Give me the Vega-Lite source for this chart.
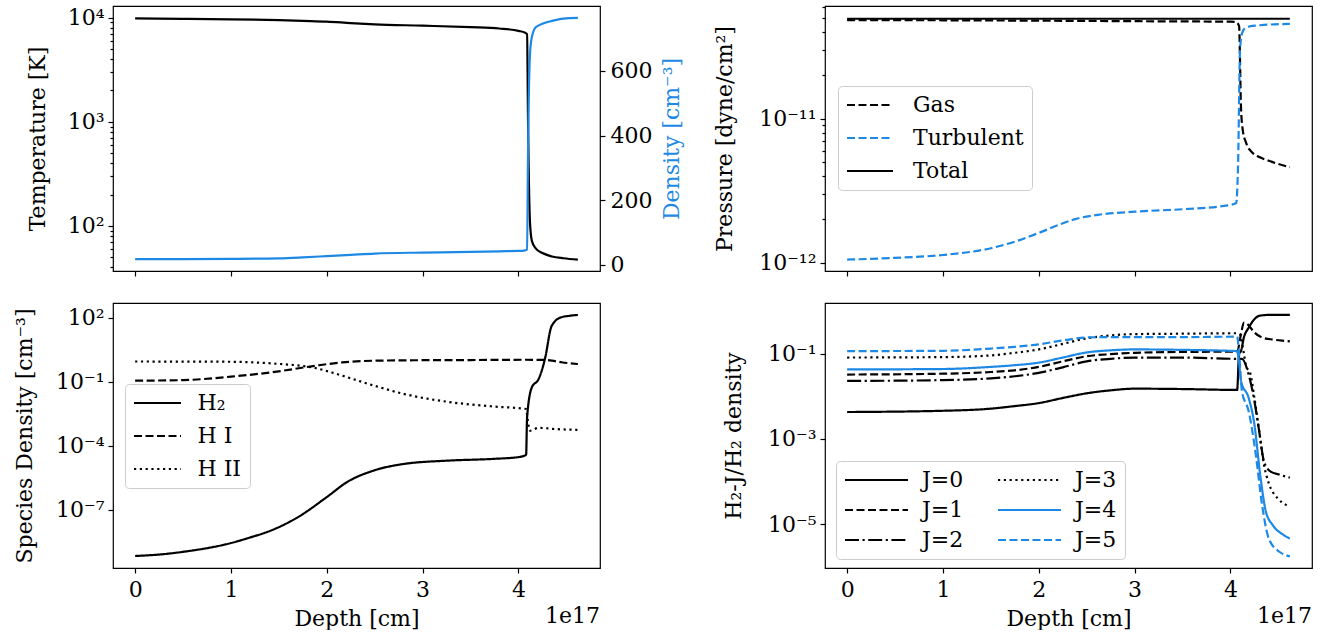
{
  "$schema": "https://vega.github.io/schema/vega-lite/v6.json",
  "background": "white",
  "padding": {"left": 12, "top": 5, "right": 5, "bottom": 0},
  "columns": 2,
  "bounds": "flush",
  "spacing": {"row": 32, "column": 225},
  "resolve": {"scale": {"color": "independent", "strokeDash": "independent"}, "legend": {"color": "independent", "strokeDash": "independent"}},
  "config": {
    "font": "DejaVu Serif",
    "view": {"stroke": "black", "strokeWidth": 1.2},
    "line": {"interpolate": "monotone"},
    "axis": {"domain": false, "grid": false, "tickColor": "black", "tickWidth": 1.2, "tickSize": 5,
      "labelFont": "DejaVu Serif", "labelFontSize": 22, "labelColor": "black", "labelPadding": 4,
      "titleFont": "DejaVu Serif", "titleFontSize": 22, "titleFontWeight": "normal", "titleColor": "black",
      "titlePadding": 8, "labelOverlap": false, "labelFlush": false},
    "legend": {"labelFont": "DejaVu Serif", "labelFontSize": 22, "labelColor": "black", "symbolStrokeWidth": 2.2,
      "fillColor": "white", "strokeColor": "#cccccc", "cornerRadius": 4, "padding": 8, "labelLimit": 0}
  },
  "datasets": {
    "temp": [
      {"d": 0, "T": 9800, "n": 18}, {"d": 0.5, "T": 9720, "n": 18}, {"d": 1.0, "T": 9620, "n": 18.5},
      {"d": 1.5, "T": 9450, "n": 20}, {"d": 1.75, "T": 9300, "n": 23}, {"d": 2.0, "T": 9150, "n": 27},
      {"d": 2.25, "T": 8850, "n": 31}, {"d": 2.5, "T": 8600, "n": 35}, {"d": 3.0, "T": 8350, "n": 38},
      {"d": 3.5, "T": 8080, "n": 40}, {"d": 3.8, "T": 7850, "n": 42}, {"d": 4.0, "T": 7450, "n": 43},
      {"d": 4.07, "T": 7150, "n": 45}, {"d": 4.09, "T": 6900, "n": 47}, {"d": 4.10, "T": 1000, "n": 350},
      {"d": 4.12, "T": 110, "n": 650}, {"d": 4.14, "T": 72, "n": 705}, {"d": 4.18, "T": 61, "n": 735},
      {"d": 4.25, "T": 55, "n": 746}, {"d": 4.35, "T": 51, "n": 755}, {"d": 4.47, "T": 49, "n": 762},
      {"d": 4.62, "T": 47.5, "n": 764}
    ],
    "press": [
      {"d": 0, "s": "Total", "v": 4.95e-11}, {"d": 1, "s": "Total", "v": 4.95e-11}, {"d": 2, "s": "Total", "v": 4.95e-11},
      {"d": 3, "s": "Total", "v": 4.95e-11}, {"d": 4, "s": "Total", "v": 4.95e-11}, {"d": 4.62, "s": "Total", "v": 4.95e-11},
      {"d": 0, "s": "Gas", "v": 4.84e-11}, {"d": 1, "s": "Gas", "v": 4.83e-11}, {"d": 2, "s": "Gas", "v": 4.8e-11},
      {"d": 3, "s": "Gas", "v": 4.76e-11}, {"d": 4, "s": "Gas", "v": 4.72e-11}, {"d": 4.06, "s": "Gas", "v": 4.7e-11},
      {"d": 4.09, "s": "Gas", "v": 4.4e-11}, {"d": 4.11, "s": "Gas", "v": 1.2e-11}, {"d": 4.13, "s": "Gas", "v": 8.2e-12},
      {"d": 4.16, "s": "Gas", "v": 6.9e-12}, {"d": 4.23, "s": "Gas", "v": 5.8e-12}, {"d": 4.32, "s": "Gas", "v": 5.35e-12},
      {"d": 4.40, "s": "Gas", "v": 5.1e-12}, {"d": 4.50, "s": "Gas", "v": 4.85e-12}, {"d": 4.62, "s": "Gas", "v": 4.6e-12},
      {"d": 0, "s": "Turbulent", "v": 1.05e-12}, {"d": 0.5, "s": "Turbulent", "v": 1.08e-12}, {"d": 1.0, "s": "Turbulent", "v": 1.13e-12},
      {"d": 1.5, "s": "Turbulent", "v": 1.26e-12}, {"d": 1.75, "s": "Turbulent", "v": 1.4e-12}, {"d": 2.0, "s": "Turbulent", "v": 1.61e-12},
      {"d": 2.2, "s": "Turbulent", "v": 1.82e-12}, {"d": 2.37, "s": "Turbulent", "v": 2.0e-12}, {"d": 2.62, "s": "Turbulent", "v": 2.15e-12},
      {"d": 3.0, "s": "Turbulent", "v": 2.26e-12}, {"d": 3.5, "s": "Turbulent", "v": 2.35e-12}, {"d": 3.97, "s": "Turbulent", "v": 2.5e-12},
      {"d": 4.06, "s": "Turbulent", "v": 2.6e-12}, {"d": 4.08, "s": "Turbulent", "v": 5e-12}, {"d": 4.10, "s": "Turbulent", "v": 3.0e-11},
      {"d": 4.12, "s": "Turbulent", "v": 3.9e-11}, {"d": 4.15, "s": "Turbulent", "v": 4.25e-11}, {"d": 4.2, "s": "Turbulent", "v": 4.38e-11},
      {"d": 4.31, "s": "Turbulent", "v": 4.46e-11}, {"d": 4.62, "s": "Turbulent", "v": 4.56e-11}
    ],
    "species": [
      {"d": 0, "s": "H₂", "v": 6.8e-10}, {"d": 0.26, "s": "H₂", "v": 8e-10}, {"d": 0.49, "s": "H₂", "v": 1.05e-9},
      {"d": 1.0, "s": "H₂", "v": 2.75e-9}, {"d": 1.2, "s": "H₂", "v": 5e-9}, {"d": 1.42, "s": "H₂", "v": 1.07e-8},
      {"d": 1.7, "s": "H₂", "v": 4.5e-8}, {"d": 2.0, "s": "H₂", "v": 3.9e-7}, {"d": 2.21, "s": "H₂", "v": 1.95e-6},
      {"d": 2.49, "s": "H₂", "v": 6.8e-6}, {"d": 2.81, "s": "H₂", "v": 1.4e-5}, {"d": 3.28, "s": "H₂", "v": 2.0e-5},
      {"d": 3.74, "s": "H₂", "v": 2.4e-5}, {"d": 4.0, "s": "H₂", "v": 2.9e-5}, {"d": 4.08, "s": "H₂", "v": 3.7e-5},
      {"d": 4.09, "s": "H₂", "v": 2.1e-3}, {"d": 4.14, "s": "H₂", "v": 5.4e-2}, {"d": 4.21, "s": "H₂", "v": 0.13},
      {"d": 4.28, "s": "H₂", "v": 1.35}, {"d": 4.34, "s": "H₂", "v": 34}, {"d": 4.37, "s": "H₂", "v": 58},
      {"d": 4.44, "s": "H₂", "v": 100}, {"d": 4.53, "s": "H₂", "v": 120}, {"d": 4.62, "s": "H₂", "v": 132},
      {"d": 0, "s": "H I", "v": 0.11}, {"d": 0.5, "s": "H I", "v": 0.117}, {"d": 1.0, "s": "H I", "v": 0.17},
      {"d": 1.42, "s": "H I", "v": 0.27}, {"d": 1.88, "s": "H I", "v": 0.55}, {"d": 2.16, "s": "H I", "v": 0.79},
      {"d": 2.49, "s": "H I", "v": 0.95}, {"d": 3.0, "s": "H I", "v": 1.0}, {"d": 3.5, "s": "H I", "v": 1.02},
      {"d": 4.08, "s": "H I", "v": 1.05}, {"d": 4.25, "s": "H I", "v": 1.04}, {"d": 4.35, "s": "H I", "v": 0.95},
      {"d": 4.45, "s": "H I", "v": 0.8}, {"d": 4.62, "s": "H I", "v": 0.66},
      {"d": 0, "s": "H II", "v": 0.87}, {"d": 0.95, "s": "H II", "v": 0.85}, {"d": 1.42, "s": "H II", "v": 0.71},
      {"d": 1.88, "s": "H II", "v": 0.43}, {"d": 2.16, "s": "H II", "v": 0.19}, {"d": 2.49, "s": "H II", "v": 0.065},
      {"d": 2.81, "s": "H II", "v": 0.026}, {"d": 3.28, "s": "H II", "v": 0.011}, {"d": 3.74, "s": "H II", "v": 0.0068},
      {"d": 4.08, "s": "H II", "v": 0.0052}, {"d": 4.10, "s": "H II", "v": 0.0012}, {"d": 4.12, "s": "H II", "v": 5.0e-4},
      {"d": 4.21, "s": "H II", "v": 6.8e-4}, {"d": 4.4, "s": "H II", "v": 5.9e-4}, {"d": 4.62, "s": "H II", "v": 5.5e-4}
    ],
    "levels": [
      {"d": 0, "J": "J=0", "v": 0.00427}, {"d": 1.0, "J": "J=0", "v": 0.00457}, {"d": 1.5, "J": "J=0", "v": 0.00513},
      {"d": 1.75, "J": "J=0", "v": 0.00589}, {"d": 2.0, "J": "J=0", "v": 0.00692}, {"d": 2.25, "J": "J=0", "v": 0.00912},
      {"d": 2.5, "J": "J=0", "v": 0.01175}, {"d": 2.75, "J": "J=0", "v": 0.0138}, {"d": 3.0, "J": "J=0", "v": 0.0151},
      {"d": 3.5, "J": "J=0", "v": 0.0148}, {"d": 4.07, "J": "J=0", "v": 0.0141}, {"d": 4.09, "J": "J=0", "v": 0.1},
      {"d": 4.11, "J": "J=0", "v": 0.115}, {"d": 4.14, "J": "J=0", "v": 0.24}, {"d": 4.19, "J": "J=0", "v": 0.407},
      {"d": 4.25, "J": "J=0", "v": 0.646}, {"d": 4.30, "J": "J=0", "v": 0.776}, {"d": 4.4, "J": "J=0", "v": 0.813},
      {"d": 4.62, "J": "J=0", "v": 0.813},
      {"d": 0, "J": "J=1", "v": 0.0324}, {"d": 1.0, "J": "J=1", "v": 0.0339}, {"d": 1.5, "J": "J=1", "v": 0.0372},
      {"d": 1.75, "J": "J=1", "v": 0.0407}, {"d": 2.0, "J": "J=1", "v": 0.049}, {"d": 2.25, "J": "J=1", "v": 0.0661},
      {"d": 2.5, "J": "J=1", "v": 0.0871}, {"d": 2.75, "J": "J=1", "v": 0.0977}, {"d": 3.0, "J": "J=1", "v": 0.105},
      {"d": 3.5, "J": "J=1", "v": 0.11}, {"d": 4.07, "J": "J=1", "v": 0.112}, {"d": 4.11, "J": "J=1", "v": 0.288},
      {"d": 4.14, "J": "J=1", "v": 0.537}, {"d": 4.18, "J": "J=1", "v": 0.49}, {"d": 4.21, "J": "J=1", "v": 0.407},
      {"d": 4.25, "J": "J=1", "v": 0.316}, {"d": 4.33, "J": "J=1", "v": 0.24}, {"d": 4.45, "J": "J=1", "v": 0.214},
      {"d": 4.57, "J": "J=1", "v": 0.2}, {"d": 4.62, "J": "J=1", "v": 0.195},
      {"d": 0, "J": "J=2", "v": 0.0229}, {"d": 1.0, "J": "J=2", "v": 0.024}, {"d": 1.5, "J": "J=2", "v": 0.0263},
      {"d": 1.75, "J": "J=2", "v": 0.0295}, {"d": 2.0, "J": "J=2", "v": 0.0355}, {"d": 2.25, "J": "J=2", "v": 0.0479},
      {"d": 2.5, "J": "J=2", "v": 0.0661}, {"d": 2.75, "J": "J=2", "v": 0.0759}, {"d": 3.0, "J": "J=2", "v": 0.0813},
      {"d": 3.5, "J": "J=2", "v": 0.0813}, {"d": 4.07, "J": "J=2", "v": 0.0759}, {"d": 4.12, "J": "J=2", "v": 0.0759},
      {"d": 4.19, "J": "J=2", "v": 0.0324}, {"d": 4.25, "J": "J=2", "v": 0.00776}, {"d": 4.30, "J": "J=2", "v": 0.00151},
      {"d": 4.35, "J": "J=2", "v": 2.95e-4}, {"d": 4.42, "J": "J=2", "v": 1.7e-4}, {"d": 4.51, "J": "J=2", "v": 1.45e-4},
      {"d": 4.62, "J": "J=2", "v": 1.23e-4},
      {"d": 0, "J": "J=3", "v": 0.0813}, {"d": 1.0, "J": "J=3", "v": 0.0832}, {"d": 1.5, "J": "J=3", "v": 0.0912},
      {"d": 1.75, "J": "J=3", "v": 0.105}, {"d": 2.0, "J": "J=3", "v": 0.126}, {"d": 2.25, "J": "J=3", "v": 0.17},
      {"d": 2.5, "J": "J=3", "v": 0.229}, {"d": 2.75, "J": "J=3", "v": 0.269}, {"d": 3.0, "J": "J=3", "v": 0.288},
      {"d": 3.5, "J": "J=3", "v": 0.295}, {"d": 4.07, "J": "J=3", "v": 0.302}, {"d": 4.10, "J": "J=3", "v": 0.282},
      {"d": 4.14, "J": "J=3", "v": 0.1}, {"d": 4.16, "J": "J=3", "v": 0.055}, {"d": 4.21, "J": "J=3", "v": 0.0324},
      {"d": 4.25, "J": "J=3", "v": 0.00912}, {"d": 4.30, "J": "J=3", "v": 0.00151}, {"d": 4.35, "J": "J=3", "v": 2.45e-4},
      {"d": 4.40, "J": "J=3", "v": 9.12e-5}, {"d": 4.49, "J": "J=3", "v": 4.07e-5}, {"d": 4.58, "J": "J=3", "v": 2.82e-5},
      {"d": 4.62, "J": "J=3", "v": 2.51e-5},
      {"d": 0, "J": "J=4", "v": 0.0427}, {"d": 1.0, "J": "J=4", "v": 0.0437}, {"d": 1.5, "J": "J=4", "v": 0.049},
      {"d": 1.75, "J": "J=4", "v": 0.0537}, {"d": 2.0, "J": "J=4", "v": 0.0617}, {"d": 2.25, "J": "J=4", "v": 0.0813},
      {"d": 2.5, "J": "J=4", "v": 0.107}, {"d": 2.75, "J": "J=4", "v": 0.12}, {"d": 3.0, "J": "J=4", "v": 0.126},
      {"d": 3.5, "J": "J=4", "v": 0.123}, {"d": 4.07, "J": "J=4", "v": 0.115}, {"d": 4.09, "J": "J=4", "v": 0.0631},
      {"d": 4.11, "J": "J=4", "v": 0.0229}, {"d": 4.19, "J": "J=4", "v": 0.00912}, {"d": 4.25, "J": "J=4", "v": 0.00219},
      {"d": 4.31, "J": "J=4", "v": 1.45e-4}, {"d": 4.37, "J": "J=4", "v": 1.95e-5}, {"d": 4.44, "J": "J=4", "v": 9.55e-6},
      {"d": 4.55, "J": "J=4", "v": 5.62e-6}, {"d": 4.62, "J": "J=4", "v": 4.57e-6},
      {"d": 0, "J": "J=5", "v": 0.115}, {"d": 1.0, "J": "J=5", "v": 0.117}, {"d": 1.5, "J": "J=5", "v": 0.132},
      {"d": 1.75, "J": "J=5", "v": 0.145}, {"d": 2.0, "J": "J=5", "v": 0.166}, {"d": 2.25, "J": "J=5", "v": 0.204},
      {"d": 2.5, "J": "J=5", "v": 0.24}, {"d": 2.75, "J": "J=5", "v": 0.245}, {"d": 3.0, "J": "J=5", "v": 0.245},
      {"d": 3.5, "J": "J=5", "v": 0.245}, {"d": 4.07, "J": "J=5", "v": 0.251}, {"d": 4.09, "J": "J=5", "v": 0.1},
      {"d": 4.12, "J": "J=5", "v": 0.0132}, {"d": 4.19, "J": "J=5", "v": 0.00447}, {"d": 4.26, "J": "J=5", "v": 5.13e-4},
      {"d": 4.33, "J": "J=5", "v": 2.82e-5}, {"d": 4.40, "J": "J=5", "v": 4.57e-6}, {"d": 4.51, "J": "J=5", "v": 2.24e-6},
      {"d": 4.58, "J": "J=5", "v": 1.86e-6}, {"d": 4.62, "J": "J=5", "v": 1.74e-6}
    ]
  },
  "concat": [
    {
      "width": 487, "height": 265,
      "data": {"name": "temp"},
      "layer": [
        {
          "mark": {"type": "line", "color": "black", "strokeWidth": 2.2},
          "encoding": {
            "x": {"field": "d", "type": "quantitative", "scale": {"domain": [-0.231, 4.851], "nice": false, "zero": false},
              "axis": {"values": [0, 1, 2, 3, 4], "labels": false, "title": null}},
            "y": {"field": "T", "type": "quantitative", "scale": {"type": "log", "domain": [37, 12900], "nice": false},
              "axis": {"title": "Temperature [K]", "titlePadding": 18,
                "values": [40, 50, 60, 70, 80, 90, 100, 200, 300, 400, 500, 600, 700, 800, 900, 1000, 2000, 3000, 4000, 5000, 6000, 7000, 8000, 9000, 10000],
                "labelExpr": "datum.value == 100 ? '10²' : datum.value == 1000 ? '10³' : datum.value == 10000 ? '10⁴' : ''",
                "labelFontSize": {"condition": {"test": "datum.value == 100 || datum.value == 1000 || datum.value == 10000", "value": 22}, "value": 0},
                "tickSize": {"condition": {"test": "datum.value == 100 || datum.value == 1000 || datum.value == 10000", "value": 5}, "value": 3}}}
          }
        },
        {
          "mark": {"type": "line", "color": "#1E88E5", "strokeWidth": 2.2},
          "encoding": {
            "x": {"field": "d", "type": "quantitative", "scale": {"domain": [-0.231, 4.851], "nice": false, "zero": false},
              "axis": {"values": [0, 1, 2, 3, 4], "labels": false, "title": null}},
            "y": {"field": "n", "type": "quantitative", "scale": {"domain": [-19, 801], "nice": false, "zero": false},
              "axis": {"orient": "right", "title": "Density [cm⁻³]", "titleColor": "#1E88E5", "titleAngle": 270, "titleBaseline": "top",
                "titlePadding": 10, "values": [0, 200, 400, 600], "labelPadding": 5}}
          }
        }
      ],
      "resolve": {"scale": {"y": "independent"}}
    },
    {
      "width": 487, "height": 265,
      "data": {"name": "press"},
      "mark": {"type": "line", "strokeWidth": 2.2},
      "encoding": {
        "x": {"field": "d", "type": "quantitative", "scale": {"domain": [-0.231, 4.851], "nice": false, "zero": false},
          "axis": {"values": [0, 1, 2, 3, 4], "labels": false, "title": null}},
        "y": {"field": "v", "type": "quantitative", "scale": {"type": "log", "domain": [8.75e-13, 6.07e-11], "nice": false},
          "axis": {"title": "Pressure [dyne/cm²]", "titlePadding": 22,
            "values": [1e-12, 2e-12, 3e-12, 4e-12, 5e-12, 6e-12, 7e-12, 8e-12, 9e-12, 1e-11, 2e-11, 3e-11, 4e-11, 5e-11, 6e-11],
            "labelExpr": "datum.value == 1e-12 ? '10⁻¹²' : datum.value == 1e-11 ? '10⁻¹¹' : ''",
            "labelFontSize": {"condition": {"test": "datum.value == 1e-12 || datum.value == 1e-11", "value": 22}, "value": 0},
            "tickSize": {"condition": {"test": "datum.value == 1e-12 || datum.value == 1e-11", "value": 5}, "value": 3}}},
        "color": {"field": "s", "type": "nominal", "scale": {"domain": ["Gas", "Turbulent", "Total"], "range": ["black", "#1E88E5", "black"]},
          "legend": {"title": null, "orient": "none", "legendX": 13, "legendY": 80, "symbolType": "M-2.875,0H2.875", "symbolSize": 256, "symbolOffset": 13, "labelOffset": 32, "rowPadding": 11}},
        "strokeDash": {"field": "s", "type": "nominal", "scale": {"domain": ["Gas", "Turbulent", "Total"], "range": [[8, 3.5], [8, 3.5], [1, 0]]},
          "legend": {"title": null, "orient": "none", "legendX": 13, "legendY": 80, "symbolType": "M-2.875,0H2.875", "symbolSize": 256, "symbolOffset": 13, "labelOffset": 32, "rowPadding": 11}}
      }
    },
    {
      "width": 487, "height": 265,
      "data": {"name": "species"},
      "title": {"text": "1e17", "orient": "bottom", "anchor": "end", "frame": "group", "offset": -23, "font": "DejaVu Serif", "fontSize": 22, "fontWeight": "normal", "color": "black"},
      "mark": {"type": "line", "strokeWidth": 2.2},
      "encoding": {
        "x": {"field": "d", "type": "quantitative", "scale": {"domain": [-0.231, 4.851], "nice": false, "zero": false},
          "axis": {"values": [0, 1, 2, 3, 4], "title": "Depth [cm]", "labelPadding": 6, "titlePadding": 8}},
        "y": {"field": "v", "type": "quantitative", "scale": {"type": "log", "domain": [1.86e-10, 478], "nice": false},
          "axis": {"title": "Species Density [cm⁻³]", "titlePadding": 19, "values": [1e-7, 1e-4, 0.1, 100],
            "labelExpr": "datum.value == 100 ? '10²' : datum.value == 0.1 ? '10⁻¹' : datum.value == 1e-4 ? '10⁻⁴' : '10⁻⁷'"}},
        "color": {"field": "s", "type": "nominal", "scale": {"domain": ["H₂", "H I", "H II"], "range": ["black", "black", "black"]},
          "legend": {"title": null, "orient": "none", "legendX": 12, "legendY": 81, "symbolType": "M-2.9375,0H2.9375", "symbolSize": 256, "symbolOffset": 13.5, "labelOffset": 29, "rowPadding": 11}},
        "strokeDash": {"field": "s", "type": "nominal", "scale": {"domain": ["H₂", "H I", "H II"], "range": [[1, 0], [8, 3.5], [2.2, 3.6]]},
          "legend": {"title": null, "orient": "none", "legendX": 12, "legendY": 81, "symbolType": "M-2.9375,0H2.9375", "symbolSize": 256, "symbolOffset": 13.5, "labelOffset": 29, "rowPadding": 11}}
      }
    },
    {
      "width": 487, "height": 265,
      "data": {"name": "levels"},
      "title": {"text": "1e17", "orient": "bottom", "anchor": "end", "frame": "group", "offset": -23, "font": "DejaVu Serif", "fontSize": 22, "fontWeight": "normal", "color": "black"},
      "mark": {"type": "line", "strokeWidth": 2.2},
      "encoding": {
        "x": {"field": "d", "type": "quantitative", "scale": {"domain": [-0.231, 4.851], "nice": false, "zero": false},
          "axis": {"values": [0, 1, 2, 3, 4], "title": "Depth [cm]", "labelPadding": 6, "titlePadding": 8}},
        "y": {"field": "v", "type": "quantitative", "scale": {"type": "log", "domain": [9.3e-7, 1.55], "nice": false},
          "axis": {"title": "H₂-J/H₂ density", "titlePadding": 22, "values": [1e-5, 1e-3, 0.1],
            "labelExpr": "datum.value == 0.1 ? '10⁻¹' : datum.value == 1e-3 ? '10⁻³' : '10⁻⁵'"}},
        "color": {"field": "J", "type": "nominal",
          "scale": {"domain": ["J=0", "J=1", "J=2", "J=3", "J=4", "J=5"], "range": ["black", "black", "black", "black", "#1E88E5", "#1E88E5"]},
          "legend": {"title": null, "orient": "none", "legendX": 11, "legendY": 158, "columns": 2, "columnPadding": 29, "symbolType": "M-3.9375,0H3.9375", "symbolSize": 256, "symbolOffset": 21.5, "labelOffset": 34.5, "rowPadding": 8}},
        "strokeDash": {"field": "J", "type": "nominal",
          "scale": {"domain": ["J=0", "J=1", "J=2", "J=3", "J=4", "J=5"], "range": [[1, 0], [8, 3.5], [14, 3.5, 2.2, 3.5], [2.2, 3.6], [1, 0], [8, 3.5]]},
          "legend": {"title": null, "orient": "none", "legendX": 11, "legendY": 158, "columns": 2, "columnPadding": 29, "symbolType": "M-3.9375,0H3.9375", "symbolSize": 256, "symbolOffset": 21.5, "labelOffset": 34.5, "rowPadding": 8}}
      }
    }
  ]
}
